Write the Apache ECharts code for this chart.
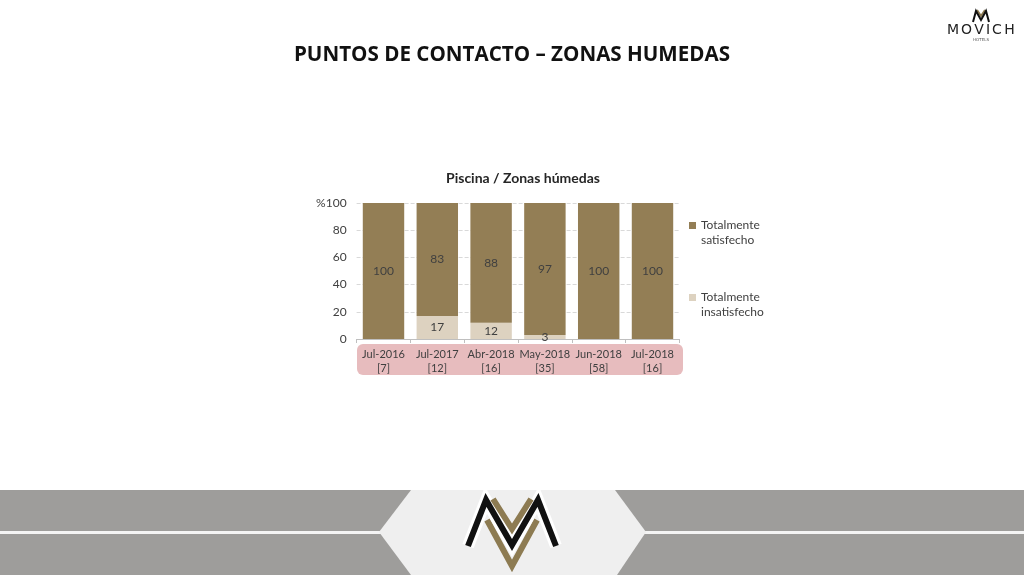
<!DOCTYPE html>
<html>
<head>
<meta charset="utf-8">
<script src="https://cdn.jsdelivr.net/npm/echarts@6/dist/echarts.min.js"></script>
<style>
html,body{margin:0;padding:0;background:#fff;}
#c{width:1024px;height:576px;}
</style>
</head>
<body>
<div id="c"></div>
<script>
var categories = ['Jul-2016', 'Jul-2017', 'Abr-2018', 'May-2018', 'Jun-2018', 'Jul-2018'];
var sampleSizes = ['[7]', '[12]', '[16]', '[35]', '[58]', '[16]'];
var satisfecho = [100, 83, 88, 97, 100, 100];
var insatisfecho = [0, 17, 12, 3, 0, 0];
var seriesNames = ['Totalmente satisfecho', 'Totalmente insatisfecho'];

var FONT = 'Lato, "Open Sans", sans-serif';
var chart = echarts.init(document.getElementById('c'));
var labels = categories.map(function (c, i) { return c + '\n' + sampleSizes[i]; });

var brandLetters = ['M', 'O', 'V', 'I', 'C', 'H'];
var brandX = [953, 966.5, 979, 988, 997, 1009.5];
var brandGraphics = brandLetters.map(function (ch, i) {
  return { type: 'text', style: { x: brandX[i], y: 30, text: ch, textAlign: 'center', textVerticalAlign: 'middle', font: '14px "DejaVu Sans", sans-serif', fill: '#222222' } };
});

var option = {
  backgroundColor: '#ffffff',
  animation: false,
  textStyle: { fontFamily: FONT },
  title: [
    {
      text: 'PUNTOS DE CONTACTO – ZONAS HUMEDAS',
      left: 'center', top: 40,
      textStyle: { fontFamily: '"Open Sans", sans-serif', fontWeight: 'bold', fontSize: 20.6, color: '#111111' }
    },
    {
      text: 'Piscina / Zonas húmedas',
      left: 518, top: 166, textAlign: 'center',
      textStyle: { fontFamily: FONT, fontWeight: 'bold', fontSize: 14, color: '#262626' }
    }
  ],
  legend: {
    orient: 'vertical',
    left: 684, top: 213,
    itemWidth: 7, itemHeight: 22,
    itemGap: 42,
    symbolKeepAspect: false,
    icon: 'path://M0,0L7,0L7,7L0,7Z M0,22L7,22L0,22Z',
    data: [seriesNames[0], seriesNames[1]],
    formatter: function (n) { return n.replace(' ', '\n'); },
    textStyle: { fontFamily: FONT, fontSize: 12, color: '#404040', lineHeight: 15 }
  },
  grid: { left: 356.6, right: 344.6, top: 203, bottom: 237, containLabel: false },
  xAxis: {
    type: 'category',
    data: labels,
    axisLine: { lineStyle: { color: '#bfbfbf' } },
    axisTick: { show: true, length: 4, lineStyle: { color: '#bfbfbf' } },
    axisLabel: { color: '#404040', fontSize: 11, lineHeight: 14, margin: 8, interval: 0 }
  },
  yAxis: {
    type: 'value',
    min: 0, max: 100, interval: 20,
    axisLine: { show: false },
    axisTick: { show: false },
    splitLine: { lineStyle: { color: '#d9d9d9', type: 'dashed' } },
    axisLabel: {
      color: '#404040', fontSize: 12, margin: 10,
      formatter: function (v) { return v === 100 ? '%' + v : String(v); }
    }
  },
  series: [
    {
      name: seriesNames[1],
      type: 'bar', stack: 'total',
      data: insatisfecho,
      barCategoryGap: '23%',
      itemStyle: { color: '#ddd2c0' },
      label: {
        show: true, position: 'inside', color: '#404040', fontSize: 12,
        formatter: function (p) { return p.value > 0 ? p.value : ''; }
      }
    },
    {
      name: seriesNames[0],
      type: 'bar', stack: 'total',
      data: satisfecho,
      barCategoryGap: '23%',
      itemStyle: { color: '#937e55' },
      label: {
        show: true, position: 'inside', color: '#404040', fontSize: 12,
        formatter: function (p) { return p.value > 0 ? p.value : ''; }
      }
    }
  ],
  graphic: [
    { type: 'rect', z: -10, shape: { x: 357, y: 344, width: 326, height: 31, r: 6 }, style: { fill: '#e7bcbe' } },
    // footer band
    { type: 'rect', z: -20, shape: { x: 0, y: 490, width: 1024, height: 85 }, style: { fill: '#9e9d9b' } },
    { type: 'rect', z: -19, shape: { x: 0, y: 531, width: 1024, height: 3 }, style: { fill: '#f4f4f4' } },
    { type: 'polygon', z: -18, shape: { points: [[411, 490], [615, 490], [646, 532], [617, 575], [411, 575], [379, 532]] }, style: { fill: '#efefef' } },
    // footer logo
    { type: 'polyline', z: -17, shape: { points: [[487, 520], [512, 566], [537, 520]] }, style: { stroke: '#8d7b52', lineWidth: 6, fill: null } },
    { type: 'polyline', z: -16, shape: { points: [[468, 546], [486, 500], [512, 545], [538, 500], [556, 546]] }, style: { stroke: '#ffffff', lineWidth: 12, fill: null, lineJoin: 'miter' } },
    { type: 'polyline', z: -15, shape: { points: [[493, 499], [512, 529], [531, 499]] }, style: { stroke: '#8d7b52', lineWidth: 6, fill: null } },
    { type: 'polyline', z: -14, shape: { points: [[468, 546], [486, 500], [512, 545], [538, 500], [556, 546]] }, style: { stroke: '#111111', lineWidth: 6, fill: null, lineJoin: 'miter' } },
    // top-right logo
    { type: 'polyline', shape: { points: [[977, 10], [981, 16], [985, 10]] }, style: { stroke: '#8d7b52', lineWidth: 2, fill: null } },
    { type: 'polyline', shape: { points: [[973, 22], [976, 11], [981, 20], [986, 11], [989, 22]] }, style: { stroke: '#111111', lineWidth: 2, fill: null } },
    { type: 'text', style: { x: 981, y: 40, text: 'HOTELS', textAlign: 'center', textVerticalAlign: 'middle', font: '4px "DejaVu Sans", sans-serif', fill: '#555555' } }
  ].concat(brandGraphics)
};
chart.setOption(option);
</script>
</body>
</html>
